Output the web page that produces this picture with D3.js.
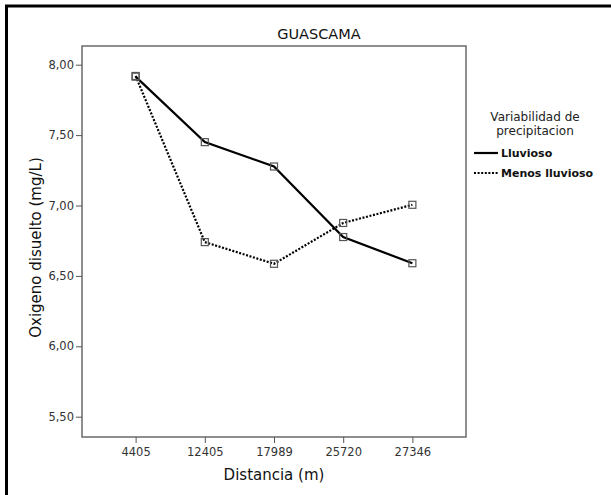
<!DOCTYPE html>
<html>
<head>
<meta charset="utf-8">
<script src="https://cdn.jsdelivr.net/npm/d3@7/dist/d3.min.js"></script>
<style>
  html, body { margin: 0; padding: 0; background: #fff; }
  svg { display: block; font-family: "DejaVu Sans", sans-serif; }
</style>
</head>
<body>
<svg id="chart" width="611" height="495"></svg>
<script>
// Dissolved oxygen along the river, by rainfall period
const distances = ["4405", "12405", "17989", "25720", "27346"];
const lluvioso = [7.915, 7.45, 7.277, 6.776, 6.59];
const menosLluvioso = [7.92, 6.74, 6.586, 6.876, 7.005];
const yTicks = [5.5, 6.0, 6.5, 7.0, 7.5, 8.0];
const seriesNames = ["Lluvioso", "Menos lluvioso"];

const svg = d3.select("#chart");

// outer frame (right and bottom edges fall outside the page)
svg.append("rect")
  .attr("x", 6.5).attr("y", 6).attr("width", 640).attr("height", 520)
  .attr("fill", "none").attr("stroke", "#000").attr("stroke-width", 3);

const plot = { left: 82, top: 46, right: 466, bottom: 437 };

const x = d3.scalePoint()
  .domain(distances)
  .range([plot.left, plot.right])
  .padding(0.775);

const y = d3.scaleLinear()
  .domain([5.5, 8.0])
  .range([416.7, 64.7]);

const fmt = d => d3.format(".2f")(d).replace(".", ",");

// plot box
svg.append("rect")
  .attr("x", plot.left).attr("y", plot.top)
  .attr("width", plot.right - plot.left).attr("height", plot.bottom - plot.top)
  .attr("fill", "none").attr("stroke", "#6a6a6a").attr("stroke-width", 1.5);

// y axis
const yAxis = svg.append("g")
  .attr("transform", `translate(${plot.left},0)`)
  .call(d3.axisLeft(y).tickValues(yTicks).tickFormat(fmt).tickSize(6).tickPadding(2));
yAxis.select(".domain").remove();
yAxis.selectAll("line").attr("stroke", "#555");
yAxis.selectAll("text").attr("font-size", 11.5).attr("fill", "#333")
  .attr("font-family", "DejaVu Sans, sans-serif");

// x axis
const xAxis = svg.append("g")
  .attr("transform", `translate(0,${plot.bottom})`)
  .call(d3.axisBottom(x).tickSize(6).tickPadding(5));
xAxis.select(".domain").remove();
xAxis.selectAll("line").attr("stroke", "#555");
xAxis.selectAll("text").attr("font-size", 11.5).attr("fill", "#333")
  .attr("font-family", "DejaVu Sans, sans-serif");

// title and axis titles
svg.append("text")
  .attr("x", 319).attr("y", 39)
  .attr("text-anchor", "middle").attr("font-size", 14.5).attr("fill", "#111")
  .text("GUASCAMA");

svg.append("text")
  .attr("x", (plot.left + plot.right) / 2).attr("y", 480)
  .attr("text-anchor", "middle").attr("font-size", 15).attr("fill", "#111")
  .text("Distancia (m)");

svg.append("text")
  .attr("transform", `translate(41,${(plot.top + plot.bottom) / 2 + 6}) rotate(-90)`)
  .attr("text-anchor", "middle").attr("font-size", 15).attr("fill", "#111")
  .text("Oxigeno disuelto (mg/L)");

// series lines
const line = d3.line()
  .x((d, i) => x(distances[i]))
  .y(d => y(d));

const styles = [
  { data: lluvioso, dash: null },
  { data: menosLluvioso, dash: "2,1.6" }
];

styles.forEach(s => {
  svg.append("path")
    .datum(s.data)
    .attr("d", line)
    .attr("fill", "none")
    .attr("stroke", "#000")
    .attr("stroke-width", 2.2)
    .attr("stroke-dasharray", s.dash);
});

// square markers
styles.forEach(s => {
  svg.append("g").selectAll("rect")
    .data(s.data)
    .join("rect")
    .attr("x", (d, i) => x(distances[i]) - 3.5)
    .attr("y", d => y(d) - 3.5)
    .attr("width", 7).attr("height", 7)
    .attr("fill", "none")
    .attr("stroke", "#555")
    .attr("stroke-width", 1.2);
});

// legend
const lg = svg.append("g").attr("font-size", 11);
lg.append("text").attr("x", 535).attr("y", 121).attr("text-anchor", "middle")
  .attr("font-size", 12).attr("fill", "#222").text("Variabilidad de");
lg.append("text").attr("x", 535).attr("y", 135).attr("text-anchor", "middle")
  .attr("font-size", 12).attr("fill", "#222").text("precipitacion");

seriesNames.forEach((name, i) => {
  const ly = 153 + i * 20;
  lg.append("line")
    .attr("x1", 474).attr("x2", 498).attr("y1", ly).attr("y2", ly)
    .attr("stroke", "#000").attr("stroke-width", 2.2)
    .attr("stroke-dasharray", styles[i].dash);
  lg.append("text")
    .attr("x", 501).attr("y", ly + 4)
    .attr("font-weight", "bold").attr("fill", "#111")
    .text(name);
});
</script>
</body>
</html>
